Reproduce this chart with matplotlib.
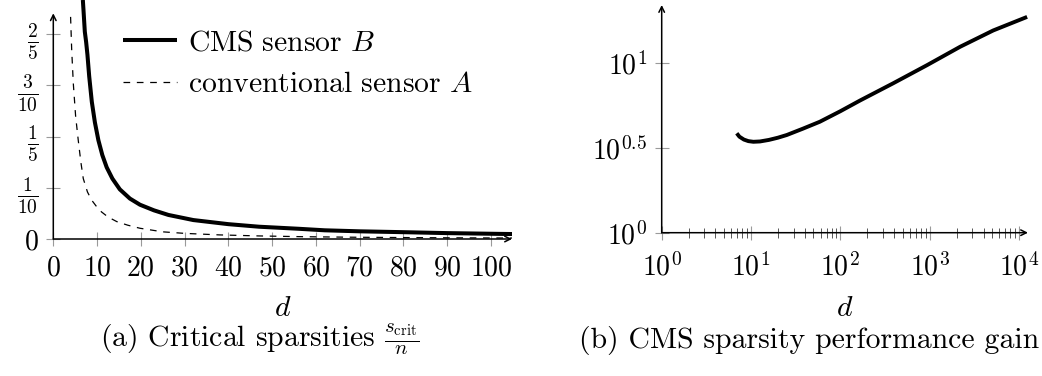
import numpy as np
import matplotlib
matplotlib.use("Agg")
import matplotlib.pyplot as plt
from matplotlib.ticker import FixedLocator, FixedFormatter, NullFormatter

plt.rcParams['mathtext.fontset'] = 'cm'
plt.rcParams['font.family'] = ['cmr10', 'DejaVu Serif']
plt.rcParams['axes.unicode_minus'] = False
plt.rcParams['lines.scale_dashes'] = False
plt.rcParams['axes.formatter.use_mathtext'] = True

# ---- data ----
# (a) critical sparsities
d_cms = [6.75, 6.9, 7.2, 7.5, 7.8, 8.2, 8.8, 9.5, 10.3, 11.2, 12.2, 13.5, 15.2,
         17.5, 19.8, 23.0, 26.3, 32.0, 40.0, 47.0, 56.0, 62.0, 70.0, 79.0,
         90.0, 102.0, 105.0]
s_cms = [0.467, 0.447, 0.405, 0.385, 0.360, 0.318, 0.268, 0.228, 0.193, 0.164,
         0.140, 0.118, 0.097, 0.079, 0.067, 0.056, 0.047, 0.037, 0.029, 0.024,
         0.020, 0.017, 0.015, 0.0135, 0.0115, 0.0100, 0.0097]

d_conv = [3.95, 4.2, 4.57, 5.1, 5.7, 6.3, 6.85, 7.8, 8.76, 10.0, 11.0, 12.5,
          14.5, 17.0, 19.8, 25.0, 30.0, 38.0, 47.0, 57.0, 68.0, 80.0, 92.0,
          105.0]
s_conv = [0.434, 0.37, 0.304, 0.240, 0.193, 0.150, 0.118, 0.092, 0.076, 0.062,
          0.053, 0.043, 0.034, 0.027, 0.021, 0.014, 0.011, 0.008, 0.006,
          0.0045, 0.0035, 0.0028, 0.0023, 0.0019]

xticks_a = [0, 10, 20, 30, 40, 50, 60, 70, 80, 90, 100]
xticklabels_a = ['$%d$' % v for v in xticks_a]
yticks_a = [0, 0.1, 0.2, 0.3, 0.4]
yticklabels_a = ['$0$', r'$\frac{1}{10}$', r'$\frac{1}{5}$', r'$\frac{3}{10}$',
                 r'$\frac{2}{5}$']

# (b) CMS sparsity performance gain
d_gain = [6.92, 7.41, 8.32, 9.33, 10.62, 12.59, 15.85, 19.95, 25.12, 38.0,
          58.9, 100.0, 166.0, 389.0, 933.0, 2188.0, 5129.0, 12303.0]
gain = [3.846, 3.673, 3.532, 3.459, 3.428, 3.443, 3.516, 3.622, 3.758, 4.093,
        4.498, 5.188, 5.998, 7.568, 9.683, 12.42, 15.49, 18.62]

xticks_b = [1, 10, 100, 1000, 10000]
xticklabels_b = ['$10^{0}$', '$10^{1}$', '$10^{2}$', '$10^{3}$', '$10^{4}$']
yticks_b = [1, 10 ** 0.5, 10]
yticklabels_b = ['$10^{0}$', '$10^{0.5}$', '$10^{1}$']

W, H = 1042, 376
fig = plt.figure(figsize=(W / 100, H / 100), dpi=100)

def px_axes(x0, x1, y_bottom, y_top):
    return fig.add_axes([x0 / W, (H - y_bottom) / H, (x1 - x0) / W,
                         (y_bottom - y_top) / H])

FS = 20
FS_TXT = 21.4
tick_gray = '#9a9a9a'

# ---------- (a) ----------
ax1 = px_axes(53.3, 512.0, 239.0, 0.0)
ax1.plot(d_cms, s_cms, color='black', lw=2.9, solid_capstyle='butt',
         label=r'$\mathrm{CMS\ sensor}\ B$')
ax1.plot(d_conv, s_conv, color='black', lw=0.9, dashes=(4.8, 4.8),
         label=r'$\mathrm{conventional\ sensor}\ A$')
ax1.set_xlim(0, 104.8)
ax1.set_ylim(0, 0.467)
for s in ax1.spines.values():
    s.set_visible(False)
ax1.xaxis.set_major_locator(FixedLocator(xticks_a))
ax1.xaxis.set_major_formatter(FixedFormatter(xticklabels_a))
ax1.yaxis.set_major_locator(FixedLocator(yticks_a))
ax1.yaxis.set_major_formatter(FixedFormatter(yticklabels_a))
ax1.tick_params(direction='inout', length=9.4, width=0.8, color=tick_gray,
                labelsize=FS)
ax1.tick_params(axis='x', pad=7)
ax1.tick_params(axis='y', pad=6)
ax1.annotate('', xy=(1.0, 0), xytext=(0, 0), xycoords='axes fraction',
             arrowprops=dict(arrowstyle='->', lw=1.1, color='black',
                             shrinkA=0, shrinkB=0))
ax1.annotate('', xy=(0, 0.441 / 0.467), xytext=(0, 0), xycoords='axes fraction',
             arrowprops=dict(arrowstyle='->', lw=1.1, color='black',
                             shrinkA=0, shrinkB=0))
ax1.set_xlabel('$d$', fontsize=FS_TXT)
ax1.xaxis.set_label_coords(283 / W, 1 - 316.5 / H, transform=fig.transFigure)
ax1.xaxis.label.set_va('baseline')
leg = ax1.legend(loc='upper left', bbox_to_anchor=(123 / W, 1 - 30 / H),
                 bbox_transform=fig.transFigure, frameon=False, fontsize=FS_TXT,
                 handlelength=1.8, handletextpad=0.38, labelspacing=0.5,
                 borderpad=0, borderaxespad=0)

# ---------- (b) ----------
ax2 = px_axes(661.7, 1028.0, 232.7, 5.0)
ax2.plot(d_gain, gain, color='black', lw=2.8, solid_capstyle='butt')
ax2.set_xscale('log')
ax2.set_yscale('log')
ax2.set_xlim(1, 10 ** 4.1)
ax2.set_ylim(1, 10 ** 1.34)
for s in ax2.spines.values():
    s.set_visible(False)
ax2.xaxis.set_major_locator(FixedLocator(xticks_b))
ax2.xaxis.set_major_formatter(FixedFormatter(xticklabels_b))
minors = [m * 10 ** e for e in range(0, 4) for m in range(2, 10)]
ax2.xaxis.set_minor_locator(FixedLocator(minors))
ax2.xaxis.set_minor_formatter(NullFormatter())
ax2.yaxis.set_major_locator(FixedLocator(yticks_b))
ax2.yaxis.set_major_formatter(FixedFormatter(yticklabels_b))
ax2.yaxis.set_minor_locator(FixedLocator([]))
ax2.tick_params(which='major', direction='inout', length=9.4, width=0.8,
                color=tick_gray, labelsize=FS)
ax2.tick_params(which='minor', direction='inout', length=6.5, width=0.7,
                color='#555555')
ax2.tick_params(axis='x', pad=10)
ax2.tick_params(axis='y', pad=6)
ax2.annotate('', xy=(1.0, 0), xytext=(0, 0), xycoords='axes fraction',
             arrowprops=dict(arrowstyle='->', lw=1.1, color='black',
                             shrinkA=0, shrinkB=0))
ax2.annotate('', xy=(0, 1.0), xytext=(0, 0), xycoords='axes fraction',
             arrowprops=dict(arrowstyle='->', lw=1.1, color='black',
                             shrinkA=0, shrinkB=0))
ax2.set_xlabel('$d$', fontsize=FS_TXT)
ax2.xaxis.set_label_coords(845 / W, 1 - 316.5 / H, transform=fig.transFigure)
ax2.xaxis.label.set_va('baseline')

# captions
fig.text(100 / W, 1 - 348 / H,
         r'(a) Critical sparsities $\frac{s_{\mathrm{crit}}}{n}$',
         ha='left', va='baseline', fontsize=FS_TXT)
fig.text(1039 / W, 1 - 348 / H, '(b) CMS sparsity performance gain',
         ha='right', va='baseline', fontsize=FS_TXT)

fig.savefig('out.png', dpi=100)
